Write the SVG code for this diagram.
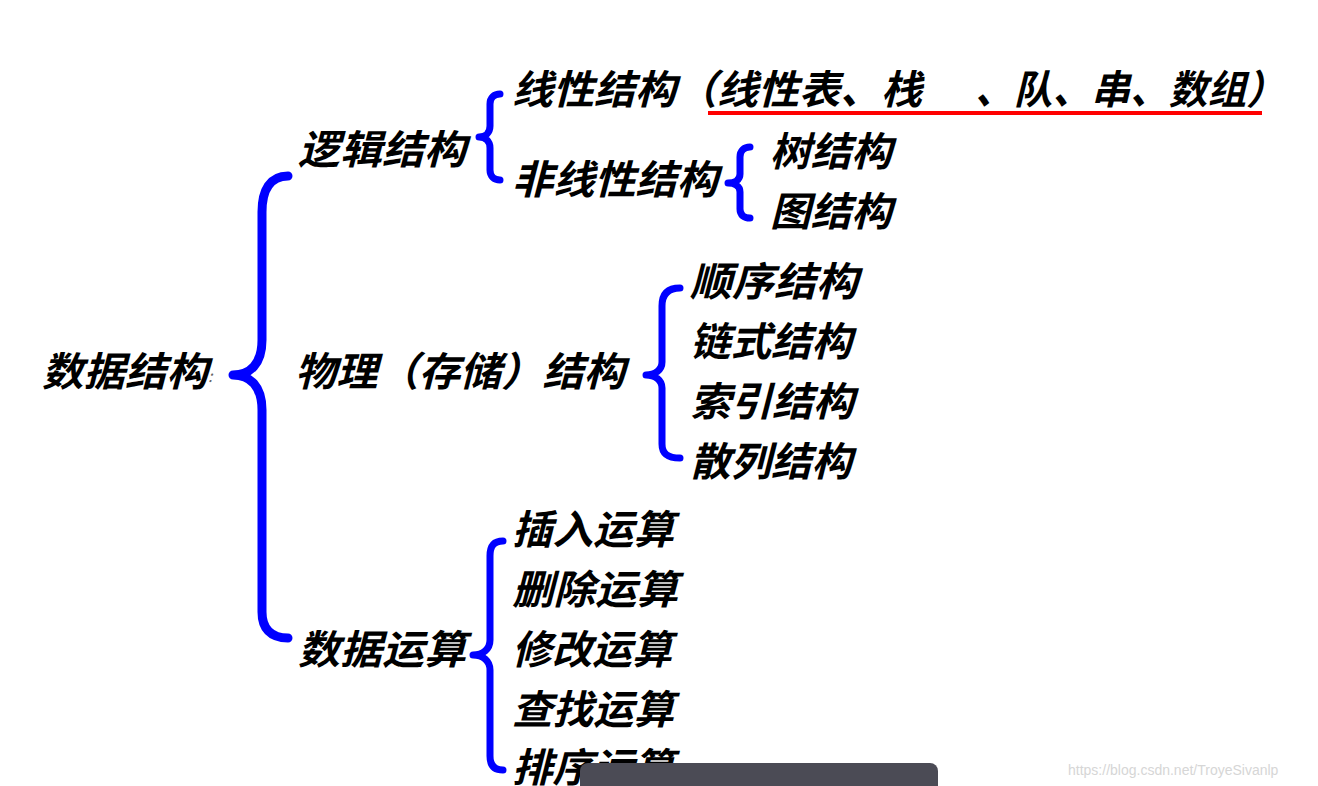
<svg xmlns="http://www.w3.org/2000/svg" width="1318" height="786" viewBox="0 0 1318 786">
<style>
.t{font-family:"Noto Sans CJK SC","Noto Sans CJK JP",sans-serif;font-size:40px;font-weight:bold;font-style:italic;fill:#000}
.b{fill:none;stroke:#0000ff;stroke-linecap:round;stroke-linejoin:round}
.wm{font-family:"Liberation Sans",Arial,sans-serif;font-size:14px;fill:#d6d6d6}
</style>
<rect width="1318" height="786" fill="#fff"/>
<g id="connectors">
<path class="b" stroke-width="9" d="M288,176 C270,176 262,190 262,212 L262,340 C262,364 250,375 233,375 C250,375 262,386 262,410 L262,612 C262,628 270,638 288,638"/>
<path class="b" stroke-width="7" d="M500,94 C494,94 490,98 490,104 L490,126 C490,133 485,137 479,137 C485,137 490,141 490,148 L490,170 C490,176 494,180 500,180"/>
<path class="b" stroke-width="7" d="M750,147 C744,147 740,151 740,157 L740,174 C740,180 735,183 728,183 C735,183 740,186 740,192 L740,209 C740,215 744,218 750,218"/>
<path class="b" stroke-width="7" d="M680,288 C668,288 662,294 662,306 L662,362 C662,370 655,375 646,375 C655,375 662,380 662,388 L662,444 C662,454 668,458 680,458"/>
<path class="b" stroke-width="7" d="M503,541 C494,541 490,546 490,556 L490,640 C490,649 483,655 473,655 C483,655 490,661 490,670 L490,756 C490,765 494,770 503,770"/>
<line x1="708" y1="113" x2="1262" y2="113" stroke="#ff0000" stroke-width="4"/>
</g>
<g id="n-root"><text class="t" x="42" y="386" textLength="166" lengthAdjust="spacingAndGlyphs">数据结构</text><text class="t" x="208" y="382" style="font-size:16px;font-weight:normal;fill:#666">:</text></g>
<g id="n-logic"><text class="t" x="298" y="164" textLength="168" lengthAdjust="spacingAndGlyphs">逻辑结构</text></g>
<g id="n-linear"><text class="t" x="512" y="104" textLength="410" lengthAdjust="spacingAndGlyphs">线性结构（线性表、栈</text><text class="t" x="975" y="104" textLength="310" lengthAdjust="spacingAndGlyphs">、队、串、数组）</text></g>
<g id="n-nonlinear"><text class="t" x="512" y="194" textLength="206" lengthAdjust="spacingAndGlyphs">非线性结构</text></g>
<g id="n-tree"><text class="t" x="770" y="166" textLength="122" lengthAdjust="spacingAndGlyphs">树结构</text></g>
<g id="n-graph"><text class="t" x="770" y="226" textLength="122" lengthAdjust="spacingAndGlyphs">图结构</text></g>
<g id="n-physical"><text class="t" x="295" y="386" textLength="330" lengthAdjust="spacingAndGlyphs">物理（存储）结构</text></g>
<g id="n-seq"><text class="t" x="690" y="296" textLength="168" lengthAdjust="spacingAndGlyphs">顺序结构</text></g>
<g id="n-link"><text class="t" x="690" y="356" textLength="162" lengthAdjust="spacingAndGlyphs">链式结构</text></g>
<g id="n-index"><text class="t" x="690" y="416" textLength="164" lengthAdjust="spacingAndGlyphs">索引结构</text></g>
<g id="n-hash"><text class="t" x="690" y="476" textLength="162" lengthAdjust="spacingAndGlyphs">散列结构</text></g>
<g id="n-ops"><text class="t" x="298" y="664" textLength="168" lengthAdjust="spacingAndGlyphs">数据运算</text></g>
<g id="n-insert"><text class="t" x="512" y="544" textLength="162" lengthAdjust="spacingAndGlyphs">插入运算</text></g>
<g id="n-delete"><text class="t" x="512" y="604" textLength="166" lengthAdjust="spacingAndGlyphs">删除运算</text></g>
<g id="n-modify"><text class="t" x="512" y="664" textLength="160" lengthAdjust="spacingAndGlyphs">修改运算</text></g>
<g id="n-search"><text class="t" x="512" y="724" textLength="162" lengthAdjust="spacingAndGlyphs">查找运算</text></g>
<g id="n-sort"><text class="t" x="512" y="782" textLength="162" lengthAdjust="spacingAndGlyphs">排序运算</text></g>
<rect x="580" y="763" width="358" height="40" rx="8" fill="#4b4b55"/>
<text class="wm" x="1068" y="775">https://blog.csdn.net/TroyeSivanlp</text>
</svg>
